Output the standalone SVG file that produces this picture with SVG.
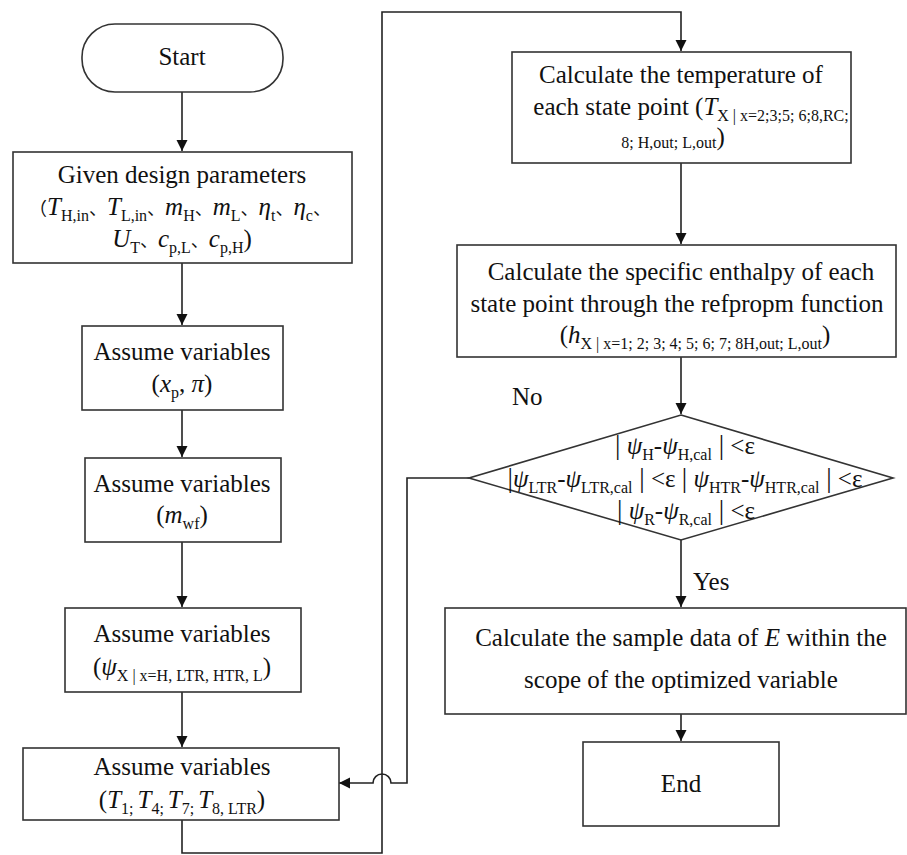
<svg xmlns="http://www.w3.org/2000/svg" width="907" height="855" viewBox="0 0 907 855">
<style>
.box{fill:#fff;stroke:#333;stroke-width:1.6}
.ln{fill:none;stroke:#222;stroke-width:1.6}
.t{font-family:"Liberation Serif","Times New Roman",Tinos,"DejaVu Serif",serif;font-size:25px;fill:#111}
.i{font-style:italic}
.s{font-size:16px;font-style:normal}
.c{font-family:"Noto Sans CJK SC","Noto Sans CJK JP",sans-serif;font-size:18px}
.bar{font-size:27px;font-style:normal}
</style>
<defs>
<marker id="ah" markerUnits="userSpaceOnUse" markerWidth="12" markerHeight="12" refX="11" refY="6" orient="auto">
<path d="M0,0.5 L11,6 L0,11.5 z" fill="#111"/>
</marker>
</defs>
<rect width="907" height="855" fill="#fff"/>

<g id="connectors">
<path class="ln" d="M182,92 V151" marker-end="url(#ah)"/>
<path class="ln" d="M182,263 V325" marker-end="url(#ah)"/>
<path class="ln" d="M182,410 V457" marker-end="url(#ah)"/>
<path class="ln" d="M182,542 V607" marker-end="url(#ah)"/>
<path class="ln" d="M182,692 V747" marker-end="url(#ah)"/>
<path class="ln" d="M182,820 V853 H382 V12 H681 V51" marker-end="url(#ah)"/>
<path class="ln" d="M681,163 V244" marker-end="url(#ah)"/>
<path class="ln" d="M681,357 V414" marker-end="url(#ah)"/>
<path class="ln" d="M681,540 V607" marker-end="url(#ah)"/>
<path class="ln" d="M681,714 V741" marker-end="url(#ah)"/>
<path class="ln" d="M469,478 H407 V783 H391 A9,9 0 0 0 373,783 H339" marker-end="url(#ah)"/>
<text class="t" x="512" y="405">No</text>
<text class="t" x="693" y="590">Yes</text>
</g>

<g id="start">
<rect class="box" x="82" y="24" width="201" height="68" rx="33" ry="33"/>
<text class="t" x="182" y="65" text-anchor="middle">Start</text>
</g>

<g id="given">
<rect class="box" x="13" y="152" width="339" height="111"/>
<text class="t" x="182" y="183" text-anchor="middle">Given design parameters</text>
<text class="t" x="180" y="215" text-anchor="middle"><tspan class="c">（</tspan><tspan class="i">T</tspan><tspan class="s" dy="6">H,in</tspan><tspan class="c" dy="-6">、</tspan><tspan class="i">T</tspan><tspan class="s" dy="6">L,in</tspan><tspan class="c" dy="-6">、</tspan><tspan class="i">m</tspan><tspan class="s" dy="6">H</tspan><tspan class="c" dy="-6">、</tspan><tspan class="i">m</tspan><tspan class="s" dy="6">L</tspan><tspan class="c" dy="-6">、</tspan><tspan class="i">η</tspan><tspan class="s" dy="6">t</tspan><tspan class="c" dy="-6">、</tspan><tspan class="i">η</tspan><tspan class="s" dy="6">c</tspan><tspan class="c" dy="-6">、</tspan></text>
<text class="t" x="182" y="247" text-anchor="middle"><tspan class="i">U</tspan><tspan class="s" dy="6">T</tspan><tspan class="c" dy="-6">、</tspan><tspan class="i">c</tspan><tspan class="s" dy="6">p,L</tspan><tspan class="c" dy="-6">、</tspan><tspan class="i">c</tspan><tspan class="s" dy="6">p,H</tspan><tspan dy="-6">)</tspan></text>
</g>

<g id="assume-xp">
<rect class="box" x="82" y="326" width="201" height="84"/>
<text class="t" x="182" y="360" text-anchor="middle">Assume variables</text>
<text class="t" x="182" y="392" text-anchor="middle">(<tspan class="i">x</tspan><tspan class="s" dy="6">p</tspan><tspan dy="-6">, </tspan><tspan class="i">π</tspan>)</text>
</g>

<g id="assume-mwf">
<rect class="box" x="85" y="458" width="196" height="84"/>
<text class="t" x="182" y="492" text-anchor="middle">Assume variables</text>
<text class="t" x="182" y="523" text-anchor="middle">(<tspan class="i">m</tspan><tspan class="s" dy="6">wf</tspan><tspan dy="-6">)</tspan></text>
</g>

<g id="assume-psi">
<rect class="box" x="65" y="608" width="236" height="84"/>
<text class="t" x="182" y="642" text-anchor="middle">Assume variables</text>
<text class="t" x="182" y="675" text-anchor="middle">(<tspan class="i">ψ</tspan><tspan class="s" dy="6">X | x=H, LTR, HTR, L</tspan><tspan dy="-6">)</tspan></text>
</g>

<g id="assume-t">
<rect class="box" x="23" y="748" width="316" height="72"/>
<text class="t" x="182" y="775" text-anchor="middle">Assume variables</text>
<text class="t" x="182" y="808" text-anchor="middle">(<tspan class="i">T</tspan><tspan class="s" dy="6">1; </tspan><tspan class="i" dy="-6">T</tspan><tspan class="s" dy="6">4; </tspan><tspan class="i" dy="-6">T</tspan><tspan class="s" dy="6">7; </tspan><tspan class="i" dy="-6">T</tspan><tspan class="s" dy="6">8,  LTR</tspan><tspan dy="-6">)</tspan></text>
</g>

<g id="calc-temp">
<rect class="box" x="512" y="52" width="339" height="111"/>
<text class="t" x="681" y="83" text-anchor="middle">Calculate the temperature of</text>
<text class="t" x="691" y="115" text-anchor="middle">each state point (<tspan class="i">T</tspan><tspan class="s" dy="6">X | x=2;3;5; 6;8,RC;</tspan></text>
<text class="t" x="673" y="148" text-anchor="middle"><tspan class="s">8; H,out; L,out</tspan><tspan dy="-3">)</tspan></text>
</g>

<g id="calc-enthalpy">
<rect class="box" x="457" y="245" width="439" height="112"/>
<text class="t" x="681" y="280" text-anchor="middle">Calculate the specific enthalpy of each</text>
<text class="t" x="677" y="312" text-anchor="middle">state point through the refpropm function</text>
<text class="t" x="695" y="343" text-anchor="middle">(<tspan class="i">h</tspan><tspan class="s" dy="6">X | x=1; 2; 3; 4; 5; 6; 7; 8H,out; L,out</tspan><tspan dy="-6">)</tspan></text>
</g>

<g id="decision">
<polygon class="box" points="681,415 893,478 681,540 469,478"/>
<text class="t" x="685" y="454" text-anchor="middle"><tspan class="bar">|</tspan> <tspan class="i">ψ</tspan><tspan class="s" dy="6">H</tspan><tspan dy="-6">-</tspan><tspan class="i">ψ</tspan><tspan class="s" dy="6">H,cal</tspan><tspan class="bar" dy="-6"> |</tspan><tspan> &lt;ε</tspan></text>
<text class="t" x="685" y="487" text-anchor="middle"><tspan class="bar">|</tspan><tspan class="i">ψ</tspan><tspan class="s" dy="6">LTR</tspan><tspan dy="-6">-</tspan><tspan class="i">ψ</tspan><tspan class="s" dy="6">LTR,cal</tspan><tspan class="bar" dy="-6"> |</tspan><tspan> &lt;ε </tspan><tspan class="bar">|</tspan><tspan class="i"> ψ</tspan><tspan class="s" dy="6">HTR</tspan><tspan dy="-6">-</tspan><tspan class="i">ψ</tspan><tspan class="s" dy="6">HTR,cal</tspan><tspan class="bar" dy="-6"> |</tspan><tspan> &lt;ε</tspan></text>
<text class="t" x="686" y="519" text-anchor="middle"><tspan class="bar">|</tspan> <tspan class="i">ψ</tspan><tspan class="s" dy="6">R</tspan><tspan dy="-6">-</tspan><tspan class="i">ψ</tspan><tspan class="s" dy="6">R,cal</tspan><tspan class="bar" dy="-6"> |</tspan><tspan> &lt;ε</tspan></text>
</g>

<g id="calc-sample">
<rect class="box" x="445" y="608" width="461" height="106"/>
<text class="t" x="681" y="646" text-anchor="middle">Calculate the sample data of <tspan class="i">E</tspan> within the</text>
<text class="t" x="681" y="688" text-anchor="middle">scope of the optimized variable</text>
</g>

<g id="end">
<rect class="box" x="583" y="742" width="196" height="84"/>
<text class="t" x="681" y="792" text-anchor="middle">End</text>
</g>
</svg>
